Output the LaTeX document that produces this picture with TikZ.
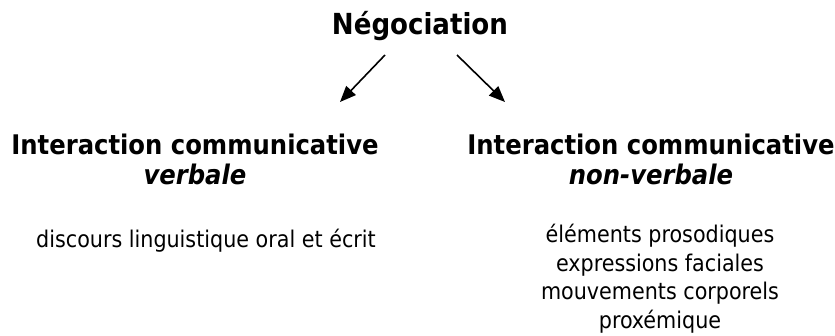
\documentclass[tikz,border=0pt]{standalone}
\usepackage{fontspec}
\setmainfont{DejaVu Sans Condensed}
\usetikzlibrary{arrows.meta}

\tikzstyle{titre}=[anchor=base, font=\fontsize{29}{30}\selectfont\bfseries, inner sep=0pt]
\tikzstyle{entete}=[anchor=base, align=center, font=\fontsize{27}{30}\selectfont\bfseries, inner sep=0pt]
\tikzstyle{liste}=[anchor=base, align=center, font=\fontsize{23}{28.5}\selectfont, inner sep=0pt]
\tikzstyle{fleche}=[line width=1.6pt, -{Triangle[length=16pt,width=13pt]}]

\begin{document}
\begin{tikzpicture}[x=1pt,y=-1pt]
        \useasboundingbox (0,0) rectangle (835,336);
        \node[titre] at (420,35) (nego) {Négociation};
        \node[entete] at (195,185) (verb) {Interaction communicative\\\textit{verbale}};
        \node[entete] at (651,185) (nonverb) {Interaction communicative\\\textit{non-verbale}};
        \node[liste] at (206,248) (discours) {discours linguistique oral et écrit};
        \node[liste] at (660,328.5) (elements) {éléments prosodiques\\expressions faciales\\mouvements corporels\\proxémique};
        \coordinate (g1) at (385,55);
        \coordinate (g2) at (340,102);
        \coordinate (d1) at (457,55);
        \coordinate (d2) at (505,102);
        \draw[fleche] (g1) -- (g2);
        \draw[fleche] (d1) -- (d2);
    \end{tikzpicture}
\end{document}
